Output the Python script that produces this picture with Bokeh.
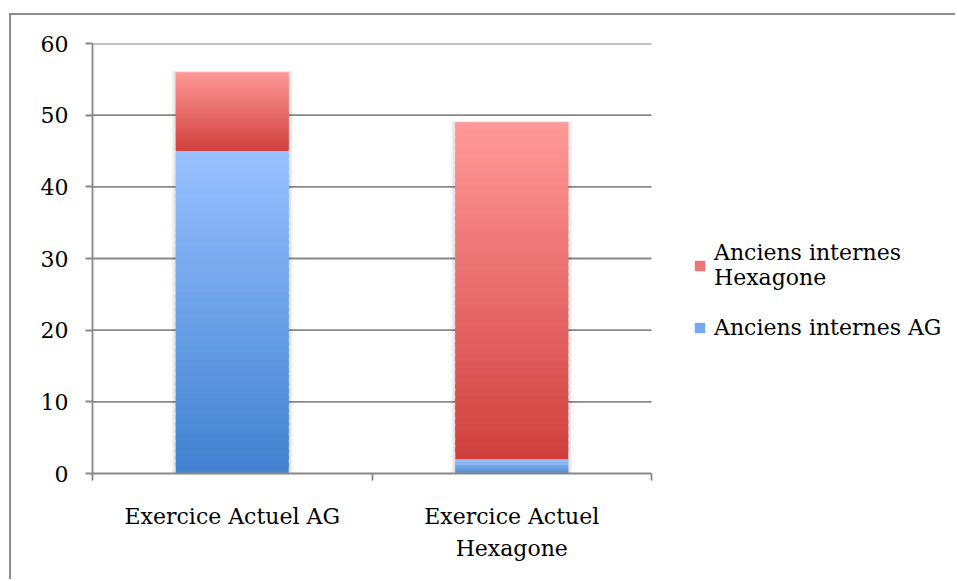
from bokeh.plotting import figure
from bokeh.models import Range1d, FixedTicker, Legend, LegendItem
from bokeh.embed import file_html
from bokeh.resources import INLINE

# ---- data ----
categories = ["Exercice Actuel AG", "Exercice Actuel\nHexagone"]
anciens_ag = [45, 2]
anciens_hexagone = [11, 47]
y_ticks = [0, 10, 20, 30, 40, 50, 60]
series_names = ["Anciens internes\nHexagone", "Anciens internes AG"]

# ---- styles ----
FONT = "DejaVu Serif"
GRID = "#888888"
RED_TOP, RED_BOT = (255, 153, 153), (208, 64, 61)
BLUE_TOP, BLUE_BOT = (153, 193, 255), (64, 129, 208)
BAR_W = 0.404
N = 48
N_CAT = len(categories)
X_MAX = N_CAT * 865 / 559  # frame extends right to leave room for the legend


def mix(c1, c2, t):
    return "#%02x%02x%02x" % tuple(int(round(a + (b - a) * t)) for a, b in zip(c1, c2))


p = figure(width=946, height=566, output_backend="svg", toolbar_location=None,
           x_range=Range1d(0, X_MAX), y_range=Range1d(0, 60),
           min_border_left=81, min_border_top=28, min_border_right=0,
           min_border_bottom=108)
p.margin = (13, 0, 0, 9)
p.styles = {"border-top": "2px solid #8c8c8c", "border-left": "2px solid #8c8c8c"}
p.outline_line_color = None
p.background_fill_color = "white"
p.border_fill_color = "white"
p.xgrid.grid_line_color = None
p.ygrid.grid_line_color = None

# horizontal grid lines over the category area
p.segment(x0=[0] * (len(y_ticks) - 1), x1=[N_CAT] * (len(y_ticks) - 1),
          y0=y_ticks[1:], y1=y_ticks[1:], line_color=GRID, line_width=1.8)

# shadows
centers = [i + 0.5 for i in range(N_CAT)]
totals = [a + h for a, h in zip(anciens_ag, anciens_hexagone)]
for k in range(4):
    d = 0.004 * (k + 1)
    p.quad(left=[c - BAR_W / 2 - d for c in centers], right=[c + BAR_W / 2 + d for c in centers],
           bottom=[0] * N_CAT, top=[t + 0.05 * (k + 1) for t in totals],
           fill_color="#000000", fill_alpha=0.03, line_color=None)


def gradient_segment(bottoms, tops, c_top, c_bot):
    L, R, B, T, C = [], [], [], [], []
    for c, b, t in zip(centers, bottoms, tops):
        step = (t - b) / N
        for i in range(N):
            y0 = b + step * i
            y1 = min(t, b + step * (i + 1.7))
            L.append(c - BAR_W / 2)
            R.append(c + BAR_W / 2)
            B.append(y0)
            T.append(y1)
            C.append(mix(c_bot, c_top, (i + 0.5) / N))
    return dict(left=L, right=R, bottom=B, top=T, color=C)


ag_bottom = [0] * N_CAT
ag_top = anciens_ag
hx_bottom = anciens_ag
hx_top = totals

r_ag = p.quad(source=gradient_segment(ag_bottom, ag_top, BLUE_TOP, BLUE_BOT),
              left="left", right="right", bottom="bottom", top="top",
              fill_color="color", line_color=None)
r_hx = p.quad(source=gradient_segment(hx_bottom, hx_top, RED_TOP, RED_BOT),
              left="left", right="right", bottom="bottom", top="top",
              fill_color="color", line_color=None)

legend = Legend(items=[LegendItem(label=series_names[0], renderers=[r_hx], index=int(N * 0.6)),
                       LegendItem(label=series_names[1], renderers=[r_ag], index=int(N * 0.6))],
                location=(601, 133), padding=0, margin=0, spacing=25,
                border_line_color=None, background_fill_alpha=0,
                glyph_width=13, glyph_height=13, label_standoff=8,
                label_text_font=FONT, label_text_font_size="22px",
                label_text_color="black", label_text_line_height=1.6)
p.add_layout(legend, "center")

# axes
p.yaxis.ticker = FixedTicker(ticks=y_ticks)
p.yaxis.axis_line_color = GRID
p.yaxis.axis_line_width = 1.8
p.yaxis.major_tick_line_color = GRID
p.yaxis.major_tick_line_width = 1.8
p.yaxis.major_tick_out = 7
p.yaxis.major_tick_in = 0
p.yaxis.minor_tick_line_color = None
p.yaxis.major_label_standoff = 17
p.yaxis.major_label_text_font = FONT
p.yaxis.major_label_text_font_size = "22px"
p.yaxis.major_label_text_color = "black"

p.xaxis.ticker = FixedTicker(ticks=centers, minor_ticks=list(range(N_CAT + 1)))
p.xaxis.bounds = (0, N_CAT)
p.xaxis.major_label_overrides = {c: lab for c, lab in zip(centers, categories)}
p.xaxis.axis_line_color = GRID
p.xaxis.axis_line_width = 1.8
p.xaxis.major_tick_line_color = None
p.xaxis.major_tick_out = 0
p.xaxis.major_tick_in = 0
p.xaxis.minor_tick_line_color = GRID
p.xaxis.minor_tick_line_width = 1.8
p.xaxis.minor_tick_out = 7
p.xaxis.minor_tick_in = 0
p.xaxis.major_label_standoff = 23
p.xaxis.major_label_text_font = FONT
p.xaxis.major_label_text_font_size = "22px"
p.xaxis.major_label_text_color = "black"
p.xaxis.major_label_text_line_height = 1.3

open("out.html", "w").write(file_html(p, INLINE))
